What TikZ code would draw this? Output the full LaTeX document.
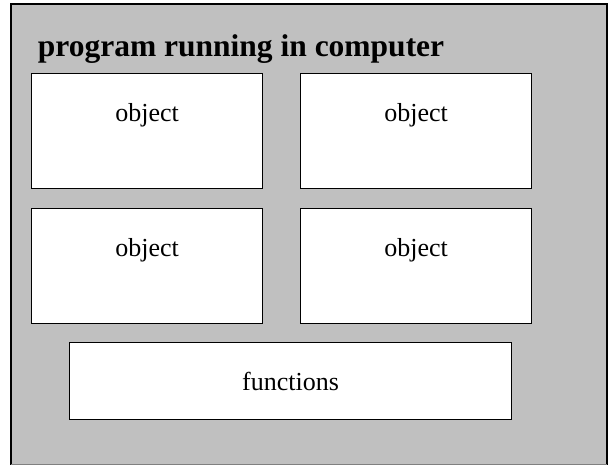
\documentclass[tikz,border=0pt]{standalone}
\usepackage{fontspec}
\setmainfont{Liberation Serif}
\usepackage{xcolor}
\usetikzlibrary{positioning}
\definecolor{panelgray}{RGB}{192,192,192}

\begin{document}
\begin{tikzpicture}[x=1pt,y=-1pt,line width=1.2pt,
  every node/.style={font=\fontsize{26}{30}\selectfont},
  objbox/.style={draw,fill=white,minimum width=231pt,minimum height=115pt,anchor=north west,inner sep=0pt}]
\useasboundingbox (0,0) rectangle (611,465);
% panel, open at the bottom edge
\fill[panelgray] (11,4) rectangle (607,465);
\draw (11,465) -- (11,4) -- (607,4) -- (607,465);
\draw[gray,line width=0.8pt] (11,464.4) -- (607,464.4);
\node[anchor=base west,font=\bfseries\fontsize{31.5}{36}\selectfont] (title) at (34,57) {program running in computer};
\node[objbox,label={[anchor=base,yshift=-49pt,label distance=0pt]north:object}] (obja) at (31,73) {};
\node[objbox,label={[anchor=base,yshift=-49pt,label distance=0pt]north:object}] (objb) at (300,73) {};
\node[objbox,label={[anchor=base,yshift=-49pt,label distance=0pt]north:object}] (objc) at (31,208) {};
\node[objbox,label={[anchor=base,yshift=-49pt,label distance=0pt]north:object}] (objd) at (300,208) {};
\node[objbox,minimum width=442pt,minimum height=77pt] (func) at (69,342) {functions};
\end{tikzpicture}
\end{document}
